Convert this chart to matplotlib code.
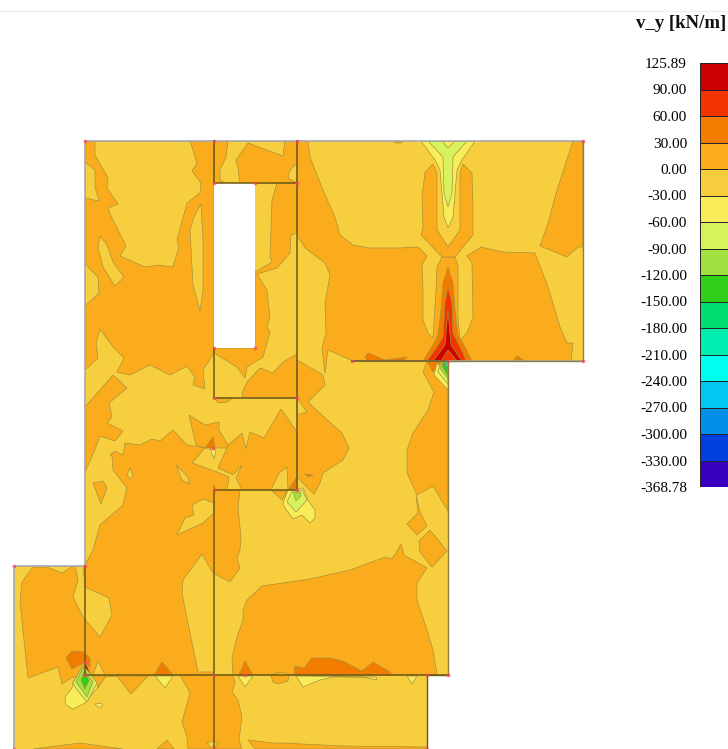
import matplotlib
matplotlib.use('Agg')
import matplotlib.pyplot as plt
from matplotlib.patches import Polygon

plt.rcParams['font.family'] = ['Liberation Serif', 'DejaVu Serif']

# colour bar
level_labels = ['125.89', '90.00', '60.00', '30.00', '0.00', '-30.00', '-60.00', '-90.00', '-120.00',
                '-150.00', '-180.00', '-210.00', '-240.00', '-270.00', '-300.00', '-330.00', '-368.78']
band_colors = ['#CC0000', '#F23500', '#F27C00', '#FAAC1C', '#F7CF3E', '#F9EC5A', '#D6F25C', '#A0E040',
               '#30D018', '#00DC70', '#00EEB0', '#00FFEE', '#00C8F0', '#0090E8', '#0040E0', '#3A00C0']
RED, REDOR, DEEP, ORANGE, YEL, LIGHT, LIME, GREEN, GREEN2, MINT, TEAL, CYAN, SKY, AZURE, BLUE, VIOLET = range(16)

# plate, read in picture coordinates
outline = [(85, 141), (583, 141), (583, 361), (448, 361), (448, 675), (427, 675), (427, 749),
           (14, 749), (14, 566), (85, 566)]
hole = [(214, 183), (255, 183), (255, 348), (214, 348)]
walls = [[(214, 141), (214, 183), (297, 183)], [(297, 141), (297, 490), (214, 490), (214, 749)],
         [(214, 348), (214, 398), (297, 398)], [(85, 566), (85, 675), (448, 675)], [(352, 361), (448, 361)]]
edge_grey = [[(85, 566), (85, 141), (583, 141)], [(14, 749), (14, 566), (85, 566)], [(352, 361), (583, 361)]]
nodes = [(85, 141), (214, 141), (297, 141), (583, 141), (583, 361), (352, 361), (448, 361), (214, 183),
         (255, 183), (297, 183), (214, 348), (255, 348), (214, 398), (297, 398), (213, 448), (214, 490),
         (297, 490), (14, 566), (85, 566), (85, 675), (214, 675), (448, 675), (427, 675), (245, 675),
         (14, 749), (214, 749), (427, 749), (85, 662)]

# contour bands, painted in this order
upper_left = [(85, 141), (214, 141), (214, 353), (203, 370), (205, 389), (193, 385), (195, 377), (187, 366),
              (170, 375), (150, 365), (130, 375), (117, 372), (124, 358), (113, 347), (100, 329), (96, 343),
              (98, 358), (85, 370)]
upper_left_y = [[(95, 141), (190, 141), (197, 163), (192, 171), (201, 183), (200, 193), (187, 203), (177, 240),
                 (179, 247), (173, 267), (158, 265), (145, 267), (120, 256), (126, 246), (112, 218), (108, 208),
                 (118, 204), (107, 188), (108, 178), (95, 155)],
                [(85, 162), (95, 170), (95, 187), (99, 201), (85, 198)],
                [(100, 236), (107, 245), (113, 262), (124, 277), (115, 286), (103, 267), (98, 247)],
                [(201, 204), (203, 240), (203, 290), (200, 311), (193, 285), (190, 230), (194, 217)],
                [(85, 264), (98, 277), (99, 293), (85, 306)]]
top_strip = [(214, 141), (297, 141), (297, 183), (214, 183)]
top_strip_y = [[(228, 141), (226, 157), (220, 170), (220, 180), (225, 183), (240, 183), (238, 168), (236, 160),
                (248, 143), (283, 156), (285, 141)],
               [(297, 163), (290, 170), (288, 178), (297, 183)]]
beside_hole = [(277, 183), (297, 183), (297, 233), (291, 235), (290, 253), (277, 268), (257, 274), (267, 290),
               (270, 317), (267, 327), (270, 332), (265, 350), (263, 357), (247, 367), (245, 378), (237, 367),
               (214, 353), (214, 348), (255, 348), (255, 272), (272, 262), (270, 257), (272, 200)]
below_hole = [(242, 393), (247, 382), (260, 368), (273, 373), (283, 362), (297, 354), (297, 398), (243, 398)]
left_mid = [(85, 407), (113, 375), (127, 388), (109, 403), (112, 417), (107, 423), (123, 431), (115, 441),
            (100, 436), (94, 452), (85, 472)]
body = [(110, 455), (115, 451), (123, 455), (125, 443), (140, 445), (152, 439), (160, 441), (173, 430), (187, 445),
        (205, 448), (192, 463), (217, 472), (229, 477), (227, 490), (240, 490), (238, 507), (241, 538), (240, 550),
        (237, 558), (240, 568), (230, 582), (213, 573), (202, 554), (183, 580), (182, 593), (190, 633), (198, 672),
        (214, 672), (214, 675), (73, 677), (62, 684), (58, 667), (28, 678), (20, 602), (22, 582), (33, 567),
        (47, 567), (62, 573), (75, 565), (85, 565), (93, 550), (100, 525), (123, 505), (127, 488), (113, 470),
        (112, 456)]
body_y = [[(192, 505), (203, 499), (214, 503), (214, 513), (203, 523), (177, 535), (185, 518), (194, 515)],
          [(130, 468), (133, 475), (130, 479), (127, 475)],
          [(176, 465), (188, 477), (189, 484), (182, 480)],
          [(83, 565), (85, 587), (109, 598), (112, 615), (100, 637), (83, 617), (73, 597), (78, 580), (75, 565)]]
yellow_band_o = [[(93, 483), (103, 481), (107, 488), (101, 504)],
                 [(189, 415), (205, 425), (219, 422), (219, 430), (228, 445), (227, 448), (205, 448), (196, 445)],
                 [(215, 398), (233, 398), (227, 402), (218, 403)]]
mid_cell = [(228, 445), (242, 433), (246, 449), (250, 432), (264, 438), (281, 409), (297, 432), (297, 477), (288, 490),
            (287, 467), (279, 473), (271, 490), (242, 490), (236, 478), (242, 465), (233, 475), (218, 468), (227, 448)]
right_of_wall = [(297, 360), (323, 375), (325, 385), (308, 402), (325, 418), (342, 433), (349, 448), (343, 460),
                 (323, 473), (320, 483), (314, 494), (297, 477)]
right_of_wall_y = [(297, 398), (307, 412), (297, 415)]
top_mid = [(297, 141), (308, 141), (310, 157), (323, 190), (335, 217), (340, 235), (353, 245), (370, 248), (400, 248),
           (418, 247), (427, 256), (422, 265), (423, 290), (423, 320), (428, 333), (433, 338), (436, 290), (437, 267),
           (442, 257), (455, 257), (458, 265), (458, 317), (460, 340), (467, 333), (473, 317), (472, 263), (467, 256),
           (481, 247), (503, 252), (535, 253), (548, 287), (560, 327), (567, 343), (573, 343), (571, 361), (353, 361),
           (328, 350), (325, 373), (322, 348), (326, 333), (325, 303), (330, 275), (325, 263), (305, 248), (297, 235)]
top_v = [(433, 164), (437, 173), (437, 230), (448, 247), (460, 230), (460, 173), (463, 164), (472, 173), (473, 207),
         (473, 235), (455, 257), (442, 257), (421, 235), (423, 227), (422, 197), (425, 172)]
top_right = [(573, 141), (583, 141), (583, 247), (578, 247), (567, 257), (540, 246), (548, 223), (557, 190)]
top_nick = [(392, 141), (403, 141), (401, 143), (396, 143)]
right_side = [(427, 361), (448, 361), (448, 511), (433, 486), (417, 495), (407, 473), (407, 450), (413, 433), (428, 410),
              (434, 392), (423, 372)]
diamonds = [[(407, 524), (418, 513), (416, 495), (420, 512), (427, 526), (417, 535)],
            [(430, 530), (447, 551), (432, 567), (420, 552), (419, 541)]]
low_right = [(262, 586), (310, 579), (350, 570), (385, 557), (392, 559), (396, 553), (401, 544), (404, 555), (427, 568),
             (417, 583), (417, 600), (427, 630), (433, 650), (437, 675), (233, 675), (232, 658), (237, 637), (243, 620),
             (243, 610), (247, 600)]
bottom_o = [[(180, 675), (233, 675), (235, 683), (232, 692), (238, 700), (242, 717), (239, 740), (242, 749), (188, 749),
             (187, 737), (182, 722), (190, 693)],
            [(271, 676), (275, 673), (285, 672), (289, 676), (288, 681), (278, 684), (273, 682)],
            [(248, 740), (273, 743), (282, 743), (343, 746), (427, 747), (427, 749), (255, 749)],
            [(157, 749), (167, 740), (174, 749)],
            [(33, 749), (80, 743), (123, 749)],
            [(117, 676), (131, 694), (148, 676)],
            [(91, 676), (106, 676), (98, 688)],
            [(272, 491), (282, 500), (287, 491)]]
bottom_y = [[(207, 743), (213, 741), (218, 743), (215, 747), (210, 747)],
            [(93, 675), (98, 661), (105, 675)]]
deep_bits = [[(365, 357), (368, 353), (385, 360), (407, 357), (403, 361), (368, 361)],
             [(513, 361), (517, 356), (525, 361)],
             [(448, 267), (453, 283), (455, 310), (458, 335), (465, 347), (472, 361), (423, 361), (433, 345), (438, 335),
              (441, 310), (443, 283)],
             [(427, 361), (441, 361), (433, 372)],
             [(239, 675), (245, 661), (253, 675)],
             [(294, 675), (295, 666), (304, 668), (312, 658), (330, 658), (343, 661), (362, 671), (373, 662), (390, 672),
              (392, 675)],
             [(154, 675), (162, 662), (173, 675)],
             [(66, 658), (72, 651), (83, 652), (90, 658), (90, 668), (85, 662), (72, 669)],
             [(297, 475), (297, 490), (288, 490)],
             [(205, 448), (213, 437), (215, 448)],
             [(214, 490), (213, 485), (217, 490)],
             [(305, 474), (313, 475), (308, 477)]]
redor_bits = [[(448, 287), (452, 303), (453, 333), (463, 353), (466, 361), (427, 361), (437, 347), (443, 337), (445, 303)]]
red_bits = [[(448, 310), (451, 345), (462, 361), (457, 361), (448, 350), (441, 361), (433, 361), (445, 345)],
            [(85, 662), (91, 675), (85, 675)]]
light_bits = [[(421, 141), (475, 141), (462, 160), (457, 170), (453, 217), (448, 228), (444, 217), (440, 170), (435, 160)],
              [(437, 363), (448, 375), (448, 390), (434, 375)],
              [(288, 490), (303, 488), (308, 500), (315, 510), (315, 518), (310, 523), (302, 515), (293, 519), (285, 508),
               (283, 503)],
              [(65, 697), (72, 688), (73, 682), (83, 667), (92, 675), (98, 687), (85, 703), (73, 709), (66, 705)],
              [(95, 704), (102, 703), (102, 707), (98, 707)],
              [(238, 676), (253, 676), (245, 687)],
              [(296, 676), (303, 687), (320, 680), (333, 677), (376, 677), (377, 680), (363, 677)],
              [(407, 676), (417, 676), (412, 684)],
              [(155, 676), (173, 676), (165, 688)],
              [(210, 449), (214, 459), (216, 450)]]
lime_bits = [[(428, 141), (442, 141), (448, 148), (455, 141), (467, 141), (453, 157), (452, 193), (448, 207), (444, 193),
              (443, 157)],
             [(440, 363), (448, 372), (448, 384), (438, 372)],
             [(292, 491), (302, 490), (307, 500), (296, 512), (287, 502)],
             [(73, 683), (83, 665), (97, 683), (87, 702), (75, 687)]]
green_bits = [[(442, 362), (448, 368), (448, 379), (440, 368)],
              [(293, 492), (300, 492), (301, 496), (296, 501)],
              [(76, 682), (83, 667), (93, 682), (87, 697)]]
green2_bits = [[(444, 362), (448, 366), (448, 376), (442, 366)],
               [(81, 680), (84, 672), (89, 680), (85, 689)]]
corner_mint = [(445, 361), (448, 361), (448, 373), (444, 364)]
corner_cyan = [(446, 361), (448, 361), (448, 369), (446, 364)]
corner_blue = [(447, 361), (448, 361), (448, 365)]

paint_order = [
    (ORANGE, [upper_left, top_strip]), (YEL, upper_left_y + top_strip_y),
    (ORANGE, [beside_hole, below_hole, left_mid, body]), (YEL, body_y),
    (ORANGE, yellow_band_o + [mid_cell, right_of_wall, top_mid, top_v, top_right, top_nick, right_side] + diamonds
     + [low_right] + bottom_o),
    (YEL, [right_of_wall_y] + bottom_y),
    (DEEP, deep_bits), (REDOR, redor_bits), (RED, red_bits), (LIGHT, light_bits), (LIME, lime_bits),
    (GREEN, green_bits), (GREEN2, green2_bits), (MINT, [corner_mint]), (CYAN, [corner_cyan]), (BLUE, [corner_blue]),
]

fig = plt.figure(figsize=(7.28, 7.49), dpi=100, facecolor='white')
ax = fig.add_axes([0, 0, 1, 1])
ax.set_xlim(0, 728)
ax.set_ylim(749, 0)
ax.axis('off')

ax.plot([0, 728], [11, 11], color='#EEEEEE', lw=0.8)

plate = Polygon(outline, closed=True, transform=ax.transData)
ax.fill(*zip(*outline), color=band_colors[YEL], lw=0)
for band, polys in paint_order:
    for p in polys:
        for patch in ax.fill(*zip(*p), facecolor=band_colors[band], edgecolor='#A8923A', lw=0.5):
            patch.set_clip_path(plate)
ax.fill(*zip(*hole), color='white', lw=0, zorder=3)

for line in edge_grey:
    ax.plot(*zip(*line), color='#A8A8B0', lw=1.2, zorder=4)
for line in walls:
    ax.plot(*zip(*line), color='#6E5A14', lw=1.1, zorder=5)
ax.plot([583, 583, 448, 448], [141, 361, 361, 675], color='#8F8040', lw=1.0, zorder=4)
ax.plot([448, 427, 427], [675, 675, 749], color='#6E5A14', lw=1.0, zorder=4)
ax.scatter(*zip(*nodes), s=7, color='#FF4060', alpha=0.7, lw=0, zorder=6)

ax.text(726, 24, 'v_y [kN/m]', ha='right', va='center', fontsize=13.5, fontweight='bold', color='#111111')

# colour bar from the band list, with its labels on the band edges
cax = fig.add_axes([700 / 728, 1 - 487 / 749, 28 / 728, 424 / 749])
cax.bar([0] * len(band_colors), [1] * len(band_colors), bottom=range(len(band_colors)), width=1,
        color=band_colors, edgecolor='#222222', linewidth=0.7)
cax.set_xlim(-0.5, 0.5)
cax.set_ylim(len(band_colors), 0)
cax.set_xticks([])
cax.set_yticks(range(len(level_labels)))
cax.set_yticklabels(level_labels, fontsize=11, color='black')
cax.tick_params(axis='y', length=0, pad=9.4)
for s in cax.spines.values():
    s.set_visible(False)

fig.savefig('out.png', dpi=100)
plt.close(fig)
